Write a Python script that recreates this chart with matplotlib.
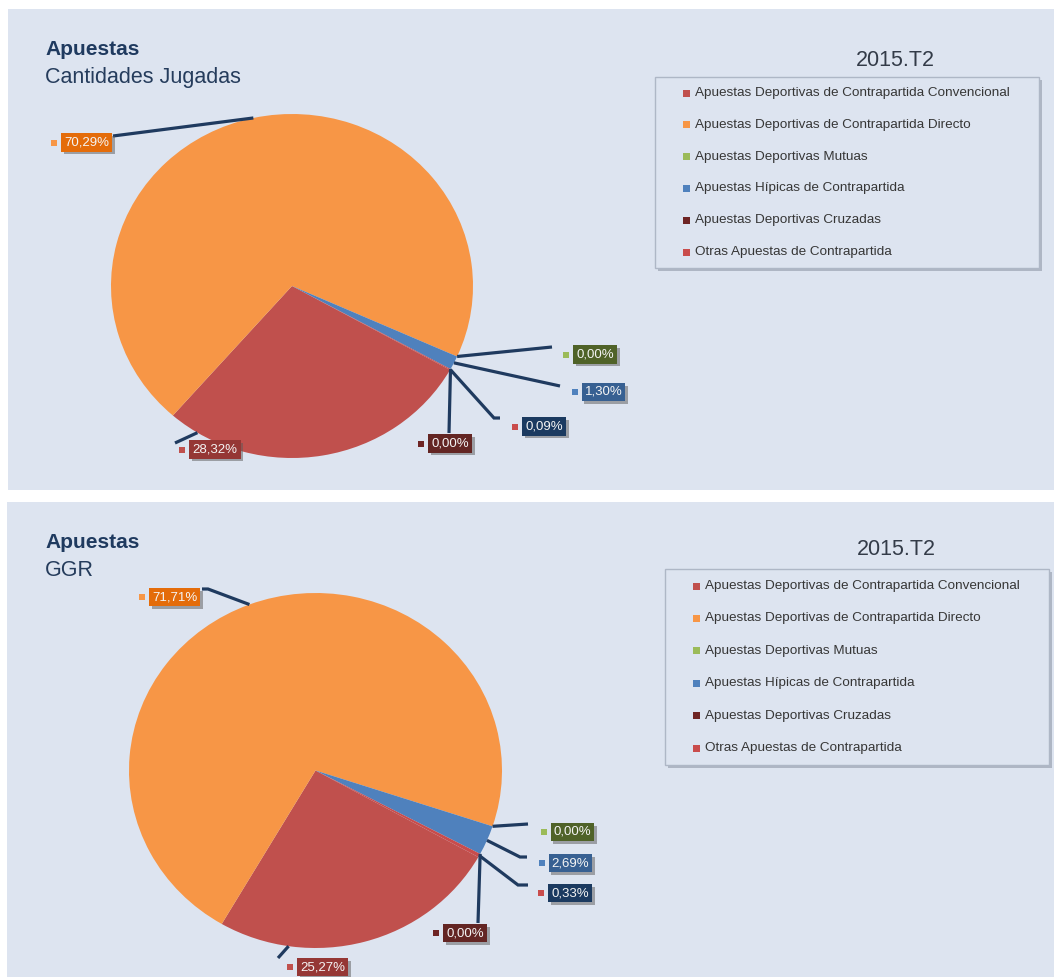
import numpy as np
import matplotlib
matplotlib.use("Agg")
import matplotlib.pyplot as plt
import matplotlib.patheffects as pe
from matplotlib import font_manager
from matplotlib.patches import Rectangle

W, H, DPI = 1054, 977, 100

# --- data -------------------------------------------------------------
categories = [
    "Apuestas Deportivas de Contrapartida Convencional",
    "Apuestas Deportivas de Contrapartida Directo",
    "Apuestas Deportivas Mutuas",
    "Apuestas Hípicas de Contrapartida",
    "Apuestas Deportivas Cruzadas",
    "Otras Apuestas de Contrapartida",
]
cantidades_pct = [28.32, 70.29, 0.00, 1.30, 0.00, 0.09]
ggr_pct = [25.27, 71.71, 0.00, 2.69, 0.00, 0.33]
group_title = "Apuestas"
subtitles = ["Cantidades Jugadas", "GGR"]
period = "2015.T2"

# --- styles -----------------------------------------------------------
slice_colors = ["#C0504D", "#F79646", "#9BBB59", "#4F81BD", "#6E2424", "#C94C4C"]
label_colors = ["#953735", "#E46C0A", "#4F6228", "#376092", "#632523", "#1B3A60"]
PANEL_BG = "#DDE4F0"
LINE_C = "#1F3A5F"
START = 330.8

names = {f.name for f in font_manager.fontManager.ttflist}
if "Liberation Sans Narrow" in names:
    NARROW, LBL_FS, LEG_FS = "Liberation Sans Narrow", 11.0, 11.8
else:
    NARROW, LBL_FS, LEG_FS = "Liberation Sans", 9.5, 9.7
plt.rcParams["font.family"] = ["Liberation Sans", "DejaVu Sans"]

# layout per panel: pie centre/radii (px), label boxes, leader waypoints
panels = [
    dict(values=cantidades_pct, sub=subtitles[0], top=9, rect=(8, 9, 1046, 481),
         pie=(292, 286, 181, 172), title_x=895, period_base=66,
         legend=(655, 77, 384, 191, 93, 31.8),
         boxes=[(215, 449.5), (86.5, 142.5), (595, 354.5), (603.5, 392), (450, 443.5), (544, 426.5)],
         paths=[[(175, 443)], [(113, 136)], [(552, 347)], [(560, 386)], [(449, 433)], [(494, 418), (500, 418)]],
         anchor_override={0: 238.5}),
    dict(values=ggr_pct, sub=subtitles[1], top=502, rect=(7, 502, 1047, 475),
         pie=(315.5, 770.5, 186.5, 177.5), title_x=896, period_base=555,
         legend=(665, 569, 384, 196, 586, 32.4),
         boxes=[(322.5, 967), (174.5, 597), (572.5, 832), (570.5, 863), (465, 933), (570, 893)],
         paths=[[(278, 958)], [(208, 589), (202, 589)], [(528, 824)], [(520, 857), (527, 857)],
                [(478, 923)], [(518, 885), (528, 885)]],
         anchor_override={0: 261.7}),
]

fig = plt.figure(figsize=(W / DPI, H / DPI), dpi=DPI, facecolor="white")
bg = fig.add_axes([0, 0, 1, 1], zorder=0)
bg.set_xlim(0, W)
bg.set_ylim(H, 0)
bg.axis("off")
ov = fig.add_axes([0, 0, 1, 1], zorder=2)
ov.set_xlim(0, W)
ov.set_ylim(H, 0)
ov.axis("off")
ov.patch.set_visible(False)

label_texts = []
for p in panels:
    x, y, w, h = p["rect"]
    bg.add_patch(Rectangle((x, y), w, h, fc=PANEL_BG, ec="none"))
    top = p["top"]
    bg.text(45, top + 46, group_title, fontsize=15, fontweight="bold", color="#1F3A5F", va="baseline")
    bg.text(45, top + 74, p["sub"], fontsize=15.5, color="#253C5C", va="baseline")
    bg.text(p["title_x"], p["period_base"], period, fontsize=15.5, color="#333B48",
            ha="center", va="baseline")

    # legend
    lx, ly, lw_, lh, row0, step = p["legend"]
    bg.add_patch(Rectangle((lx + 3, ly + 3), lw_, lh, fc="#9AA3B2", ec="none", alpha=0.7))
    bg.add_patch(Rectangle((lx, ly), lw_, lh, fc=PANEL_BG, ec="#AEB7C6", lw=1))
    for i, name in enumerate(categories):
        ry = row0 + i * step
        bg.add_patch(Rectangle((lx + 28, ry - 3.5), 7, 7, fc=slice_colors[i], ec="none"))
        bg.text(lx + 40, ry, name, fontsize=LEG_FS, family=[NARROW, "DejaVu Sans"],
                color="#363636", va="center")

    # pie (slightly elliptical, as in the source)
    cx, cy, rx, ry_ = p["pie"]
    pax = fig.add_axes([(cx - rx) / W, (H - cy - ry_) / H, 2 * rx / W, 2 * ry_ / H], zorder=1)
    wedges, _ = pax.pie(p["values"], colors=slice_colors, startangle=START,
                        counterclock=False, radius=1.0, wedgeprops=dict(linewidth=0))
    pax.set_aspect("auto")
    pax.set_xlim(-1, 1)
    pax.set_ylim(-1, 1)
    pax.axis("off")

    for i, wdg in enumerate(wedges):
        ang = p["anchor_override"].get(i, 0.5 * (wdg.theta1 + wdg.theta2))
        t = np.deg2rad(ang)
        dx, dy = pax.transData.transform((np.cos(t), np.sin(t)))
        xs = [dx] + [q[0] for q in p["paths"][i]]
        ys = [H - dy] + [q[1] for q in p["paths"][i]]
        ov.plot(xs, ys, color=LINE_C, lw=2.3, solid_capstyle="butt", solid_joinstyle="miter")

        txt = f"{p['values'][i]:.2f}".replace(".", ",") + "%"
        bx, by = p["boxes"][i]
        tt = ov.text(bx, by, txt, ha="center", va="center", color="#F4F4F4",
                     fontsize=LBL_FS, family=[NARROW, "DejaVu Sans"],
                     bbox=dict(boxstyle="square,pad=0.23", fc=label_colors[i], ec="none"))
        tt.get_bbox_patch().set_path_effects(
            [pe.withSimplePatchShadow(offset=(2, -2), shadow_rgbFace="#5A5A5A", alpha=0.5)])
        label_texts.append((tt, slice_colors[i]))

# small colour keys left of each label box
fig.canvas.draw()
rend = fig.canvas.get_renderer()
for tt, col in label_texts:
    ext = tt.get_bbox_patch().get_window_extent(rend)
    mx = ext.x0 - 7
    my = H - 0.5 * (ext.y0 + ext.y1)
    ov.add_patch(Rectangle((mx - 3, my - 3), 6, 6, fc=col, ec="none"))

fig.savefig("out.png", dpi=DPI, facecolor="white")
